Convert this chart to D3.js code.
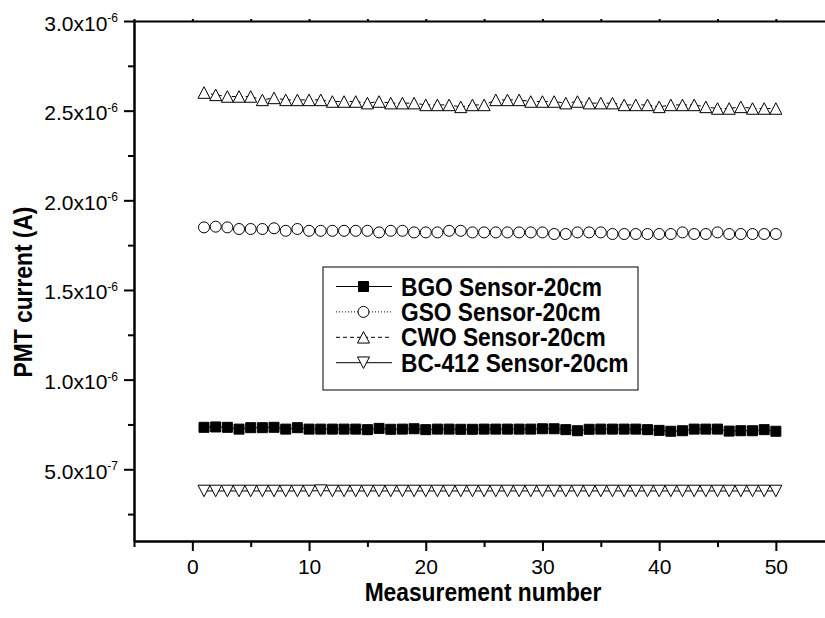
<!DOCTYPE html>
<html>
<head>
<meta charset="utf-8">
<script src="https://cdn.jsdelivr.net/npm/d3@7"></script>
<style>
  body { margin: 0; background: #fff; }
  text { font-family: "Liberation Sans", Arial, sans-serif; fill: #000; }
</style>
</head>
<body>
<svg id="chart" width="825" height="618"></svg>
<script>
// Measurement index (x) for every series
const measurement = [1,2,3,4,5,6,7,8,9,10,11,12,13,14,15,16,17,18,19,20,
  21,22,23,24,25,26,27,28,29,30,31,32,33,34,35,36,37,38,39,40,
  41,42,43,44,45,46,47,48,49,50];

// PMT current (A) per sensor
const bgo = [0.734e-6,0.736e-6,0.734e-6,0.724e-6,0.732e-6,0.732e-6,0.734e-6,0.724e-6,0.732e-6,0.724e-6,
  0.724e-6,0.724e-6,0.724e-6,0.724e-6,0.721e-6,0.728e-6,0.723e-6,0.724e-6,0.726e-6,0.721e-6,
  0.724e-6,0.724e-6,0.723e-6,0.723e-6,0.724e-6,0.724e-6,0.724e-6,0.724e-6,0.724e-6,0.726e-6,
  0.726e-6,0.721e-6,0.715e-6,0.723e-6,0.724e-6,0.724e-6,0.724e-6,0.724e-6,0.721e-6,0.717e-6,
  0.712e-6,0.715e-6,0.724e-6,0.724e-6,0.724e-6,0.713e-6,0.715e-6,0.715e-6,0.721e-6,0.712e-6];

const gso = [1.849e-6,1.853e-6,1.849e-6,1.840e-6,1.840e-6,1.840e-6,1.844e-6,1.830e-6,1.840e-6,1.830e-6,
  1.830e-6,1.830e-6,1.830e-6,1.830e-6,1.830e-6,1.821e-6,1.830e-6,1.830e-6,1.821e-6,1.821e-6,
  1.821e-6,1.830e-6,1.830e-6,1.821e-6,1.821e-6,1.821e-6,1.821e-6,1.821e-6,1.821e-6,1.821e-6,
  1.812e-6,1.812e-6,1.821e-6,1.821e-6,1.821e-6,1.812e-6,1.812e-6,1.812e-6,1.812e-6,1.812e-6,
  1.812e-6,1.821e-6,1.812e-6,1.812e-6,1.821e-6,1.812e-6,1.812e-6,1.812e-6,1.812e-6,1.812e-6];

const cwo = [2.601e-6,2.588e-6,2.579e-6,2.579e-6,2.579e-6,2.560e-6,2.571e-6,2.560e-6,2.560e-6,2.560e-6,
  2.560e-6,2.551e-6,2.551e-6,2.551e-6,2.542e-6,2.551e-6,2.542e-6,2.542e-6,2.542e-6,2.532e-6,
  2.532e-6,2.532e-6,2.521e-6,2.532e-6,2.532e-6,2.560e-6,2.560e-6,2.560e-6,2.551e-6,2.551e-6,
  2.551e-6,2.542e-6,2.551e-6,2.542e-6,2.542e-6,2.542e-6,2.532e-6,2.532e-6,2.532e-6,2.521e-6,
  2.532e-6,2.532e-6,2.532e-6,2.521e-6,2.512e-6,2.512e-6,2.521e-6,2.512e-6,2.512e-6,2.512e-6];

const bc412 = [3.79e-7,3.79e-7,3.79e-7,3.79e-7,3.79e-7,3.79e-7,3.79e-7,3.79e-7,3.79e-7,3.79e-7,
  3.81e-7,3.79e-7,3.79e-7,3.79e-7,3.79e-7,3.79e-7,3.79e-7,3.79e-7,3.79e-7,3.79e-7,
  3.79e-7,3.79e-7,3.79e-7,3.79e-7,3.79e-7,3.79e-7,3.79e-7,3.79e-7,3.79e-7,3.79e-7,
  3.79e-7,3.79e-7,3.79e-7,3.79e-7,3.79e-7,3.79e-7,3.79e-7,3.79e-7,3.79e-7,3.79e-7,
  3.79e-7,3.79e-7,3.79e-7,3.79e-7,3.79e-7,3.79e-7,3.79e-7,3.79e-7,3.79e-7,3.79e-7];

const seriesNames = ["BGO Sensor-20cm", "GSO Sensor-20cm", "CWO Sensor-20cm", "BC-412 Sensor-20cm"];

// Axis ticks
const xMajorTicks = [0, 10, 20, 30, 40, 50];
const xMinorTicks = [-5, 5, 15, 25, 35, 45, 55];
const yMajorTicks = [5e-7, 1e-6, 1.5e-6, 2e-6, 2.5e-6, 3e-6];
const yMinorTicks = [2.5e-7, 7.5e-7, 1.25e-6, 1.75e-6, 2.25e-6, 2.75e-6];

const xTitle = "Measurement number";
const yTitle = "PMT current (A)";

const svg = d3.select("#chart");

const x = d3.scaleLinear().domain([-5, 55]).range([134, 834.2]);
const y = d3.scaleLinear().domain([1e-7, 3e-6]).range([541, 21]);

// Custom marker shapes: open triangles pointing up / down
const triangleUp = {
  draw(ctx, size) {
    const h = Math.sqrt(size) / 2, H = Math.sqrt(size) * 0.96;
    ctx.moveTo(0, -H / 2); ctx.lineTo(h, H / 2); ctx.lineTo(-h, H / 2); ctx.closePath();
  }
};
const triangleDown = {
  draw(ctx, size) {
    const h = Math.sqrt(size) / 2, H = Math.sqrt(size) * 0.96;
    ctx.moveTo(0, H / 2); ctx.lineTo(h, -H / 2); ctx.lineTo(-h, -H / 2); ctx.closePath();
  }
};

const styles = [
  { values: bgo,   symbol: d3.symbolSquare, size: 100, fill: "#000", dash: null },
  { values: gso,   symbol: d3.symbolCircle, size: 95,  fill: "#fff", dash: "1,2" },
  { values: cwo,   symbol: triangleUp,      size: 144, fill: "#fff", dash: "4,3" },
  { values: bc412, symbol: triangleDown,    size: 144, fill: "#fff", dash: null }
];

// Series: connecting line first, markers on top
const line = d3.line().x((d) => x(d[0])).y((d) => y(d[1]));
const plot = svg.append("g");
styles.forEach((s) => {
  const pts = measurement.map((m, i) => [m, s.values[i]]);
  plot.append("path")
    .attr("d", line(pts))
    .attr("fill", "none")
    .attr("stroke", "#000")
    .attr("stroke-width", 1)
    .attr("stroke-dasharray", s.dash);
  plot.append("g").selectAll("path").data(pts).join("path")
    .attr("transform", (d) => `translate(${x(d[0])},${y(d[1])})`)
    .attr("d", d3.symbol().type(s.symbol).size(s.size))
    .attr("fill", s.fill)
    .attr("stroke", "#000")
    .attr("stroke-width", 1);
});

// Axes
const styleAxis = (g) => {
  g.selectAll("path.domain").attr("stroke", "#000").attr("stroke-width", 2);
  g.selectAll(".tick line").attr("stroke", "#000").attr("stroke-width", 2);
};

svg.append("g").attr("transform", "translate(0,541)")
  .call(d3.axisBottom(x).tickValues(xMinorTicks).tickSize(6).tickSizeOuter(0).tickFormat(""))
  .call(styleAxis);
const xAxis = svg.append("g").attr("transform", "translate(0,541)")
  .call(d3.axisBottom(x).tickValues(xMajorTicks).tickSize(10).tickSizeOuter(0).tickPadding(12))
  .call(styleAxis);
xAxis.selectAll(".tick text")
  .attr("font-size", 21).attr("font-family", "Liberation Sans, Arial, sans-serif")
  .attr("fill", "#000").attr("dy", null).attr("y", 33);

svg.append("g").attr("transform", "translate(0,21)")
  .call(d3.axisTop(x).tickValues(xMajorTicks.concat(xMinorTicks)).tickSize(2).tickSizeOuter(0).tickFormat(""))
  .call(styleAxis);

svg.append("g").attr("transform", "translate(134,0)")
  .call(d3.axisLeft(y).tickValues(yMinorTicks).tickSize(6).tickSizeOuter(0).tickFormat(""))
  .call(styleAxis);
const yAxis = svg.append("g").attr("transform", "translate(134,0)")
  .call(d3.axisLeft(y).tickValues(yMajorTicks).tickSize(10).tickSizeOuter(0).tickFormat(""))
  .call(styleAxis);

// y tick labels in "m.mx10^e" form
yAxis.selectAll(".tick").each(function (v) {
  const e = Math.floor(Math.log10(v) + 1e-9);
  const m = (v / Math.pow(10, e)).toFixed(1);
  const t = d3.select(this).append("text")
    .attr("x", -16).attr("y", 9)
    .attr("text-anchor", "end")
    .attr("font-size", 21)
    .attr("font-family", "Liberation Sans, Arial, sans-serif")
    .attr("fill", "#000");
  t.append("tspan").text(`${m}x10`);
  t.append("tspan").attr("font-size", 12).attr("dy", -8.5).text(`${e}`);
});

// Axis titles
svg.append("text")
  .attr("transform", "translate(483,601) scale(0.86,1)")
  .attr("text-anchor", "middle")
  .attr("font-size", 26.5).attr("font-weight", "bold")
  .text(xTitle);
svg.append("text")
  .attr("transform", "translate(31.5,292) rotate(-90) scale(0.86,1)")
  .attr("text-anchor", "middle")
  .attr("font-size", 26.5).attr("font-weight", "bold")
  .text(yTitle);

// Legend
const legend = svg.append("g");
legend.append("rect")
  .attr("x", 323).attr("y", 267).attr("width", 315).attr("height", 123)
  .attr("fill", "#fff").attr("stroke", "#000").attr("stroke-width", 1);
styles.forEach((s, i) => {
  const cy = 286.5 + i * 25.4;
  legend.append("line")
    .attr("x1", 336).attr("x2", 392).attr("y1", cy).attr("y2", cy)
    .attr("stroke", "#000").attr("stroke-width", 1)
    .attr("stroke-dasharray", s.dash);
  legend.append("path")
    .attr("transform", `translate(363.5,${cy})`)
    .attr("d", d3.symbol().type(s.symbol).size(s.size))
    .attr("fill", s.fill).attr("stroke", "#000").attr("stroke-width", 1);
  legend.append("text")
    .attr("transform", `translate(401,${cy + 9}) scale(0.91,1)`)
    .attr("font-size", 25).attr("font-weight", "bold")
    .text(seriesNames[i]);
});
</script>
</body>
</html>
